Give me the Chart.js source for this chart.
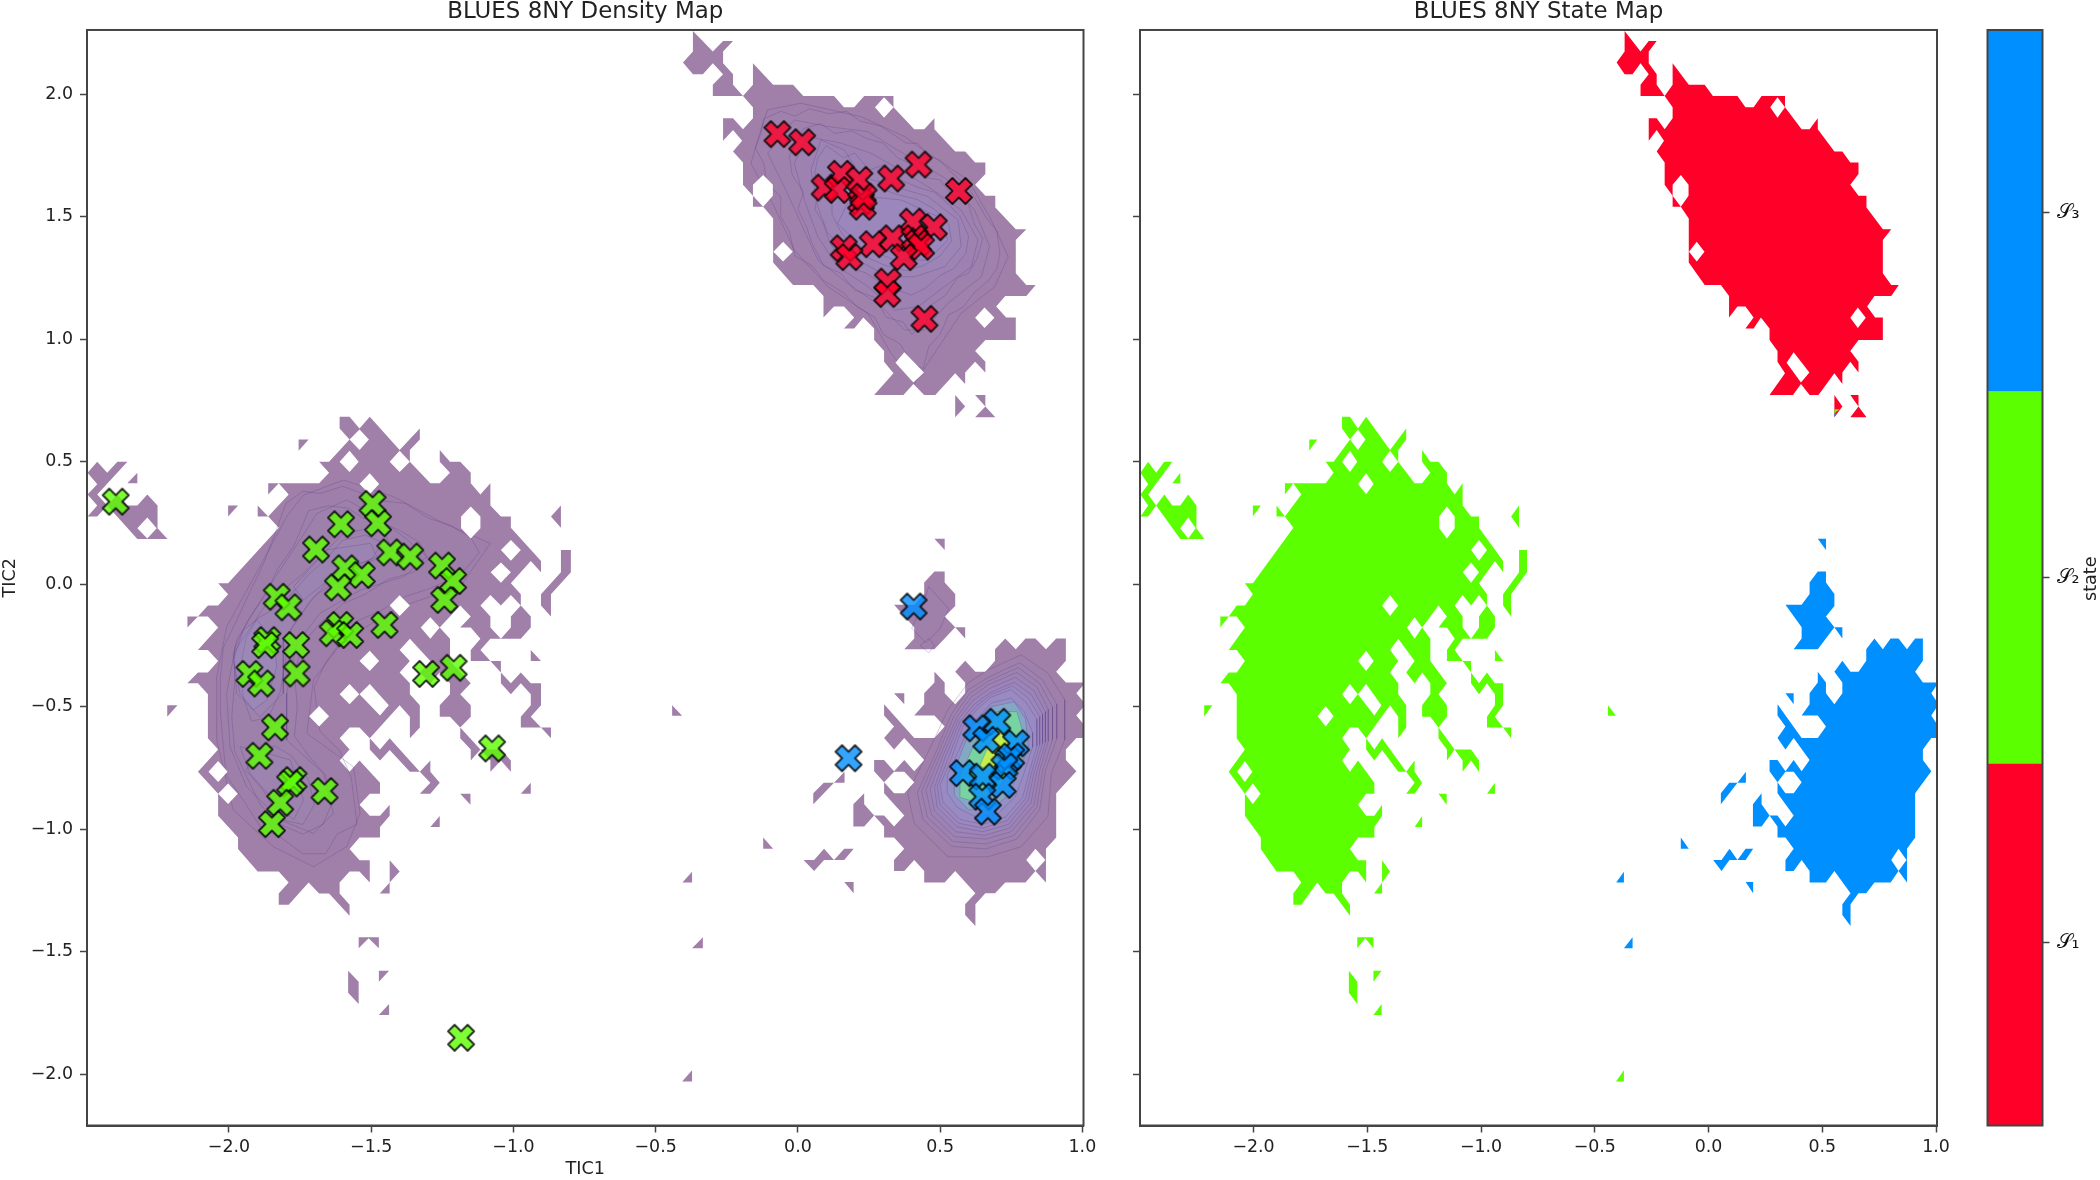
<!DOCTYPE html>
<html>
<head>
<meta charset="utf-8">
<title>BLUES 8NY</title>
<script src="https://cdn.jsdelivr.net/npm/chart.js@4"></script>
<style>
  html, body { margin: 0; background: #fff; }
  canvas { position: absolute; left: 0; top: 0; }
</style>
</head>
<body>
<canvas id="density" width="2100" height="1180"></canvas>
<canvas id="states" width="2100" height="1180"></canvas>
<canvas id="colorbar" width="2100" height="1180"></canvas>
<script>
// centres of the states (TIC1, TIC2)
const redCentres = [[-.072,1.837],[.015,1.804],[.094,1.619],[.151,1.675],[.140,1.609],[.216,1.650],[.222,1.562],[.228,1.541],[.231,1.582],[.328,1.656],[.424,1.713],[.566,1.605],[.404,1.480],[.478,1.457],[.333,1.412],[.263,1.388],[.410,1.412],[.422,1.392],[.433,1.378],[.372,1.335],[.161,1.371],[.181,1.335],[.316,1.235],[.314,1.185],[.445,1.083]];
const greenCentres = [[-2.398,.337],[-1.606,.245],[-1.495,.328],[-1.476,.249],[-1.694,.142],[-1.433,.130],[-1.363,.113],[-1.251,.076],[-1.212,.013],[-1.243,-.064],[-1.591,.065],[-1.533,.038],[-1.617,-.013],[-1.832,-.051],[-1.791,-.094],[-1.453,-.166],[-1.609,-.166],[-1.635,-.200],[-1.574,-.207],[-1.865,-.228],[-1.873,-.248],[-1.764,-.248],[-1.928,-.366],[-1.887,-.405],[-1.762,-.364],[-1.307,-.366],[-1.210,-.341],[-1.838,-.584],[-1.075,-.670],[-1.893,-.700],[-1.773,-.799],[-1.785,-.813],[-1.664,-.844],[-1.820,-.892],[-1.849,-.979],[-1.184,-1.851]];
const blueCentres = [[.407,-.091],[.178,-.710],[.627,-.588],[.701,-.561],[.662,-.635],[.767,-.649],[.738,-.717],[.750,-.703],[.726,-.744],[.580,-.771],[.650,-.785],[.720,-.819],[.648,-.867],[.668,-.928]];

// outlines of the occupied regions
const redMain = [[-.369,2.258],[-.299,2.174],[-.263,2.217],[-.228,2.217],[-.263,2.174],[-.263,2.126],[-.228,2.081],[-.228,2.038],[-.193,1.993],[-.158,2.038],[-.158,2.126],[-.087,2.038],[-.017,2.038],[.019,1.993],[.127,1.993],[.162,1.947],[.198,1.947],[.233,1.993],[.336,1.993],[.336,1.947],[.409,1.857],[.444,1.857],[.480,1.902],[.480,1.857],[.553,1.766],[.588,1.766],[.623,1.721],[.659,1.721],[.659,1.674],[.623,1.630],[.659,1.585],[.694,1.585],[.694,1.538],[.766,1.449],[.803,1.449],[.766,1.405],[.766,1.269],[.803,1.221],[.836,1.221],[.803,1.176],[.729,1.176],[.697,1.133],[.732,1.089],[.766,1.089],[.766,.997],[.659,.997],[.623,.952],[.659,.908],[.659,.864],[.623,.908],[.588,.864],[.588,.817],[.553,.861],[.483,.772],[.444,.772],[.406,.817],[.371,.772],[.268,.772],[.336,.861],[.303,.908],[.303,.952],[.268,.997],[.268,1.044],[.230,1.089],[.198,1.044],[.162,1.044],[.198,1.089],[.162,1.133],[.127,1.133],[.090,1.089],[.090,1.176],[.054,1.221],[-.017,1.221],[-.087,1.313],[-.087,1.493],[-.122,1.541],[-.158,1.541],[-.158,1.585],[-.193,1.630],[-.193,1.721],[-.228,1.766],[-.196,1.810],[-.228,1.854],[-.263,1.810],[-.263,1.902],[-.228,1.902],[-.193,1.857],[-.158,1.902],[-.158,1.947],[-.193,1.993],[-.299,1.993],[-.299,2.038],[-.263,2.081],[-.299,2.126],[-.334,2.081],[-.369,2.081],[-.404,2.129],[-.369,2.174]];
const redBits = [
  [[.553,.772],[.588,.725],[.553,.681]],
  [[.623,.772],[.659,.772],[.659,.725],[.694,.681],[.623,.681],[.659,.725]]
];
const redHoles = [
  [[.303,1.987],[.336,1.947],[.303,1.904],[.271,1.947]],
  [[-.122,1.670],[-.088,1.630],[-.088,1.585],[-.122,1.541],[-.158,1.585],[-.158,1.630]],
  [[-.052,1.398],[-.018,1.357],[-.052,1.317],[-.086,1.357]],
  [[.656,1.129],[.691,1.088],[.656,1.046],[.623,1.088]],
  [[.374,.947],[.443,.864],[.406,.823],[.343,.904]]
];

const greenMain = [[-1.611,.684],[-1.576,.684],[-1.541,.636],[-1.505,.684],[-1.400,.548],[-1.329,.636],[-1.329,.591],[-1.364,.548],[-1.364,.500],[-1.292,.412],[-1.259,.412],[-1.223,.455],[-1.259,.500],[-1.259,.548],[-1.223,.500],[-1.187,.500],[-1.150,.455],[-1.150,.412],[-1.116,.366],[-1.081,.412],[-1.081,.321],[-1.044,.276],[-1.009,.276],[-1.009,.231],[-.903,.095],[-.903,.049],[-.939,.095],[-1.009,.004],[-.974,-.041],[-.974,-.087],[-.939,-.132],[-.939,-.177],[-.974,-.222],[-1.081,-.222],[-1.116,-.268],[-1.081,-.313],[-1.150,-.313],[-1.150,-.268],[-1.116,-.222],[-1.150,-.177],[-1.187,-.177],[-1.150,-.132],[-1.187,-.087],[-1.259,-.177],[-1.223,-.222],[-1.223,-.313],[-1.150,-.404],[-1.187,-.449],[-1.150,-.494],[-1.150,-.541],[-1.187,-.585],[-1.223,-.541],[-1.259,-.541],[-1.259,-.494],[-1.223,-.449],[-1.223,-.404],[-1.259,-.360],[-1.292,-.404],[-1.329,-.360],[-1.292,-.313],[-1.364,-.222],[-1.400,-.268],[-1.364,-.313],[-1.400,-.360],[-1.364,-.404],[-1.364,-.449],[-1.329,-.494],[-1.329,-.585],[-1.364,-.629],[-1.364,-.541],[-1.400,-.494],[-1.505,-.629],[-1.541,-.585],[-1.576,-.585],[-1.611,-.629],[-1.576,-.674],[-1.611,-.719],[-1.576,-.765],[-1.541,-.719],[-1.469,-.810],[-1.469,-.855],[-1.505,-.855],[-1.541,-.900],[-1.505,-.945],[-1.469,-.945],[-1.435,-.900],[-1.435,-.945],[-1.469,-.991],[-1.469,-1.034],[-1.541,-1.034],[-1.576,-1.081],[-1.541,-1.126],[-1.505,-1.126],[-1.505,-1.217],[-1.541,-1.172],[-1.576,-1.172],[-1.611,-1.217],[-1.611,-1.262],[-1.576,-1.308],[-1.576,-1.353],[-1.648,-1.262],[-1.683,-1.262],[-1.720,-1.217],[-1.790,-1.308],[-1.825,-1.308],[-1.825,-1.262],[-1.790,-1.217],[-1.825,-1.172],[-1.899,-1.172],[-1.968,-1.081],[-1.968,-1.034],[-2.038,-.945],[-2.038,-.855],[-2.109,-.765],[-2.038,-.674],[-2.074,-.629],[-2.074,-.449],[-2.109,-.404],[-2.146,-.404],[-2.109,-.360],[-2.074,-.360],[-2.038,-.313],[-2.074,-.268],[-2.109,-.268],[-2.038,-.177],[-2.074,-.132],[-2.109,-.132],[-2.146,-.177],[-2.146,-.132],[-2.109,-.132],[-2.074,-.087],[-2.038,-.087],[-2.003,-.041],[-2.038,.004],[-2.003,.004],[-1.825,.231],[-1.862,.276],[-1.899,.276],[-1.899,.321],[-1.862,.276],[-1.790,.366],[-1.825,.412],[-1.862,.366],[-1.862,.412],[-1.683,.412],[-1.648,.455],[-1.683,.500],[-1.648,.500],[-1.576,.591],[-1.611,.636]];
const greenBits = [
  [[-2.497,.455],[-2.463,.500],[-2.428,.455],[-2.392,.500],[-2.357,.500],[-2.463,.366],[-2.428,.321],[-2.392,.366],[-2.357,.321],[-2.322,.321],[-2.287,.366],[-2.251,.321],[-2.251,.228],[-2.216,.185],[-2.322,.185],[-2.428,.321],[-2.463,.276],[-2.497,.276],[-2.463,.321],[-2.497,.366],[-2.463,.408]],
  [[-2.322,.455],[-2.322,.412],[-2.357,.412]],
  [[-1.505,-.629],[-1.469,-.674],[-1.435,-.629],[-1.329,-.765],[-1.292,-.719],[-1.292,-.765],[-1.259,-.810],[-1.292,-.855],[-1.329,-.855],[-1.292,-.810],[-1.329,-.765],[-1.364,-.765],[-1.435,-.677],[-1.469,-.719],[-1.505,-.674]],
  [[-1.187,-.585],[-1.116,-.674],[-1.044,-.674],[-1.009,-.719],[-1.009,-.765],[-1.044,-.719],[-1.081,-.765],[-1.081,-.719],[-1.116,-.674],[-1.150,-.719],[-1.150,-.674],[-1.187,-.629]],
  [[-1.044,-.313],[-1.044,-.360],[-1.009,-.404],[-.974,-.360],[-.939,-.404],[-.903,-.404],[-.903,-.494],[-.939,-.541],[-.903,-.585],[-.868,-.585],[-.868,-.629],[-.903,-.585],[-.974,-.585],[-.974,-.541],[-.939,-.494],[-.939,-.449],[-.974,-.404],[-1.009,-.449],[-1.044,-.404],[-1.044,-.360],[-1.081,-.313]],
  [[-.833,.140],[-.798,.140],[-.798,.049],[-.868,-.041],[-.868,-.132],[-.903,-.087],[-.903,-.041],[-.833,.049]],
  [[-.833,.321],[-.833,.231],[-.868,.276]],
  [[-.939,-.268],[-.903,-.313],[-.939,-.313]],
  [[-1.755,.591],[-1.720,.591],[-1.755,.545]],
  [[-2.003,.321],[-1.968,.321],[-2.003,.276]],
  [[-2.217,-.494],[-2.181,-.494],[-2.217,-.541]],
  [[-1.435,-1.126],[-1.400,-1.172],[-1.435,-1.217],[-1.435,-1.262],[-1.470,-1.262],[-1.435,-1.217]],
  [[-.939,-.810],[-.939,-.855],[-.974,-.855]],
  [[-1.187,-.855],[-1.151,-.855],[-1.151,-.900]],
  [[-1.259,-.946],[-1.259,-.991],[-1.292,-.991]],
  [[-.442,-.494],[-.407,-.537],[-.442,-.537]],
  [[-1.544,-1.441],[-1.473,-1.441],[-1.473,-1.486],[-1.509,-1.445],[-1.544,-1.486]],
  [[-1.581,-1.577],[-1.544,-1.622],[-1.544,-1.713],[-1.581,-1.667]],
  [[-1.473,-1.577],[-1.437,-1.577],[-1.473,-1.622]],
  [[-1.437,-1.713],[-1.437,-1.758],[-1.473,-1.758]],
  [[-.372,-1.984],[-.372,-2.029],[-.407,-2.029]]
];
const greenHoles = [
  [[-1.541,.632],[-1.508,.591],[-1.541,.548],[-1.576,.591]],
  [[-1.576,.545],[-1.544,.500],[-1.576,.458],[-1.611,.500]],
  [[-1.505,.453],[-1.472,.409],[-1.505,.367],[-1.541,.409]],
  [[-1.400,.545],[-1.364,.500],[-1.400,.458],[-1.435,.500]],
  [[-1.150,.317],[-1.116,.276],[-1.116,.228],[-1.150,.187],[-1.184,.228],[-1.184,.276]],
  [[-1.009,.181],[-.974,.140],[-1.009,.096],[-1.044,.140]],
  [[-1.044,.089],[-1.009,.049],[-1.044,.006],[-1.080,.049]],
  [[-1.400,-.045],[-1.364,-.087],[-1.400,-.130],[-1.435,-.087]],
  [[-1.292,-.135],[-1.259,-.177],[-1.292,-.222],[-1.326,-.177]],
  [[-1.505,-.271],[-1.472,-.313],[-1.505,-.354],[-1.541,-.313]],
  [[-1.576,-.407],[-1.542,-.449],[-1.576,-.490],[-1.611,-.449]],
  [[-1.505,-.407],[-1.438,-.494],[-1.469,-.536],[-1.541,-.449]],
  [[-1.683,-.497],[-1.648,-.539],[-1.683,-.581],[-1.718,-.539]],
  [[-2.038,-.721],[-2.005,-.765],[-2.038,-.807],[-2.072,-.765]],
  [[-2.003,-.813],[-1.969,-.855],[-2.003,-.897],[-2.038,-.855]],
  [[-2.287,.272],[-2.254,.228],[-2.287,.187],[-2.322,.228]],
  [[-1.081,-.044],[-1.044,-.087],[-1.009,-.044],[-.974,-.087],[-1.009,-.132],[-1.009,-.177],[-1.044,-.222],[-1.081,-.177],[-1.081,-.132],[-1.116,-.087]]
];

const blueMain = [[.729,-.221],[.766,-.265],[.800,-.221],[.835,-.221],[.872,-.265],[.908,-.221],[.942,-.221],[.942,-.312],[.908,-.357],[.942,-.401],[1.011,-.401],[.979,-.445],[1.011,-.490],[.979,-.536],[1.011,-.581],[1.011,-.628],[.979,-.628],[.942,-.674],[.942,-.717],[.979,-.763],[.908,-.853],[.908,-1.034],[.872,-1.080],[.872,-1.217],[.835,-1.170],[.800,-1.217],[.729,-1.217],[.693,-1.261],[.659,-1.261],[.624,-1.306],[.624,-1.395],[.588,-1.350],[.588,-1.306],[.624,-1.261],[.553,-1.170],[.516,-1.217],[.444,-1.217],[.444,-1.170],[.409,-1.125],[.374,-1.170],[.338,-1.170],[.338,-1.125],[.374,-1.080],[.338,-1.034],[.303,-1.034],[.303,-.989],[.268,-.944],[.303,-.944],[.338,-.989],[.374,-.944],[.303,-.853],[.303,-.808],[.268,-.763],[.268,-.717],[.303,-.717],[.338,-.763],[.374,-.717],[.409,-.763],[.444,-.717],[.374,-.628],[.338,-.674],[.303,-.628],[.338,-.581],[.303,-.536],[.303,-.490],[.409,-.628],[.480,-.628],[.516,-.581],[.480,-.536],[.409,-.536],[.444,-.490],[.444,-.445],[.480,-.401],[.480,-.357],[.516,-.401],[.516,-.445],[.553,-.490],[.588,-.445],[.588,-.401],[.553,-.357],[.588,-.312],[.624,-.357],[.659,-.357],[.693,-.312],[.693,-.265]];
const blueBits = [
  [[.480,.052],[.516,.052],[.516,.007],[.553,-.040],[.553,-.089],[.516,-.132],[.553,-.176],[.588,-.176],[.588,-.221],[.553,-.176],[.480,-.265],[.374,-.265],[.409,-.221],[.409,-.176],[.338,-.084],[.409,-.084],[.444,-.040],[.444,.007]],
  [[.480,.186],[.516,.186],[.516,.140]],
  [[.338,-.445],[.374,-.445],[.374,-.490]],
  [[.164,-.765],[.164,-.810],[.127,-.810],[.054,-.898],[.054,-.853],[.091,-.810],[.127,-.810]],
  [[.233,-.853],[.233,-.898],[.268,-.944],[.233,-.989],[.195,-.989],[.195,-.898]],
  [[-.122,-1.034],[-.087,-1.080],[-.122,-1.080]],
  [[.092,-1.080],[.127,-1.125],[.163,-1.080],[.196,-1.080],[.163,-1.125],[.092,-1.125],[.057,-1.170],[.020,-1.125],[.057,-1.125]],
  [[.163,-1.215],[.196,-1.215],[.196,-1.261]],
  [[-.372,-1.173],[-.372,-1.217],[-.406,-1.217]],
  [[-.334,-1.441],[-.334,-1.486],[-.372,-1.486]]
];
const blueHoles = [
  [[.338,-.765],[.374,-.765],[.409,-.808],[.374,-.853],[.338,-.853],[.303,-.808]],
  [[.835,-1.080],[.870,-1.125],[.835,-1.170],[.803,-1.125]]
];

// the little spot where all three states meet
const meetGreen = [[.553,.714],[.577,.714],[.553,.698]];
const meetBlue = [[.553,.698],[.565,.698],[.553,.681]];

// density contours, outermost first
const redRings = [
  [[-.107,1.936],[.011,1.963],[.222,1.908],[.375,1.827],[.457,1.759],[.598,1.650],[.680,1.487],[.739,1.337],[.692,1.215],[.574,1.106],[.480,.942],[.410,.820],[.328,.942],[.246,1.106],[.105,1.215],[-.013,1.364],[-.083,1.541],[-.165,1.718],[-.130,1.854]],
  [[-.12,1.90],[-.06,1.93],[-.01,1.91],[.04,1.94],[.11,1.92],[.17,1.93],[.22,1.89],[.29,1.87],[.33,1.84],[.38,1.80],[.42,1.80],[.46,1.75],[.50,1.73],[.54,1.68],[.58,1.64],[.61,1.60],[.64,1.54],[.66,1.50],[.70,1.44],[.71,1.35],[.70,1.29],[.67,1.24],[.62,1.19],[.58,1.13],[.53,1.10],[.50,1.02],[.46,.97],[.44,.88],[.40,.90],[.36,.98],[.30,1.02],[.27,1.09],[.21,1.13],[.16,1.19],[.09,1.24],[.05,1.30],[-.01,1.34],[-.03,1.44],[-.06,1.50],[-.06,1.58],[-.11,1.64],[-.12,1.72],[-.15,1.78],[-.13,1.84]],
  [[-.013,1.895],[.105,1.868],[.246,1.847],[.340,1.779],[.410,1.732],[.527,1.650],[.621,1.527],[.674,1.378],[.645,1.255],[.527,1.146],[.445,1.037],[.375,1.038],[.293,1.133],[.175,1.228],[.070,1.323],[.011,1.473],[-.048,1.623],[-.106,1.759]],
  [[.02,1.86],[.08,1.88],[.13,1.84],[.19,1.85],[.24,1.82],[.30,1.80],[.35,1.74],[.41,1.71],[.45,1.66],[.50,1.65],[.54,1.59],[.60,1.55],[.62,1.47],[.65,1.41],[.63,1.33],[.60,1.27],[.56,1.25],[.52,1.18],[.47,1.14],[.45,1.06],[.40,1.02],[.37,1.07],[.31,1.09],[.27,1.17],[.20,1.20],[.15,1.27],[.09,1.30],[.05,1.39],[.03,1.46],[.00,1.53],[.02,1.60],[-.02,1.67],[-.03,1.75],[.00,1.81]],
  [[.034,1.827],[.152,1.800],[.257,1.759],[.340,1.704],[.457,1.623],[.574,1.527],[.633,1.405],[.610,1.296],[.516,1.215],[.422,1.133],[.340,1.119],[.246,1.215],[.140,1.296],[.070,1.419],[.023,1.568],[-.013,1.718]],
  [[.10,1.79],[.16,1.74],[.20,1.76],[.25,1.69],[.30,1.71],[.36,1.65],[.42,1.62],[.48,1.60],[.53,1.55],[.57,1.50],[.60,1.42],[.59,1.35],[.55,1.29],[.50,1.26],[.45,1.21],[.40,1.18],[.35,1.20],[.29,1.23],[.24,1.27],[.19,1.29],[.14,1.34],[.11,1.40],[.09,1.47],[.06,1.53],[.07,1.60],[.06,1.68],[.07,1.74]],
  [[.081,1.813],[.164,1.772],[.222,1.664],[.340,1.623],[.457,1.582],[.563,1.487],[.574,1.378],[.516,1.296],[.410,1.255],[.316,1.255],[.211,1.323],[.105,1.432],[.070,1.541],[.046,1.691]],
  [[.16,1.70],[.21,1.63],[.28,1.62],[.35,1.59],[.42,1.57],[.48,1.53],[.53,1.47],[.54,1.40],[.50,1.34],[.44,1.30],[.38,1.28],[.31,1.30],[.25,1.33],[.19,1.38],[.15,1.44],[.12,1.51],[.12,1.58],[.13,1.65]],
  [[.246,1.582],[.363,1.568],[.492,1.500],[.527,1.405],[.457,1.323],[.340,1.323],[.222,1.378],[.140,1.473],[.175,1.555]]
];
const greenRings = [
  [[-1.738,.364],[-1.597,.425],[-1.421,.357],[-1.245,.249],[-1.081,.167],[-1.187,-.010],[-1.398,-.092],[-1.597,-.228],[-1.703,-.391],[-1.726,-.609],[-1.562,-.745],[-1.539,-.935],[-1.586,-1.071],[-1.703,-1.153],[-1.844,-1.071],[-1.985,-.921],[-2.043,-.636],[-2.043,-.377],[-2.008,-.173],[-1.891,.072],[-1.797,.276]],
  [[-1.80,.33],[-1.74,.38],[-1.68,.37],[-1.60,.40],[-1.53,.37],[-1.46,.34],[-1.38,.33],[-1.30,.27],[-1.22,.24],[-1.15,.19],[-1.12,.13],[-1.17,.06],[-1.22,.02],[-1.30,-.02],[-1.38,-.05],[-1.47,-.11],[-1.55,-.15],[-1.61,-.24],[-1.66,-.32],[-1.70,-.42],[-1.69,-.52],[-1.68,-.60],[-1.61,-.68],[-1.57,-.79],[-1.56,-.88],[-1.55,-.98],[-1.62,-1.02],[-1.66,-1.10],[-1.74,-1.10],[-1.81,-1.04],[-1.89,-.99],[-1.95,-.88],[-2.01,-.78],[-2.02,-.66],[-2.03,-.52],[-2.03,-.38],[-2.02,-.26],[-1.97,-.14],[-1.93,-.04],[-1.88,.08],[-1.84,.20]],
  [[-1.691,.289],[-1.586,.344],[-1.480,.276],[-1.386,.194],[-1.304,.113],[-1.386,.031],[-1.539,-.024],[-1.680,-.119],[-1.762,-.241],[-1.797,-.445],[-1.797,-.636],[-1.668,-.772],[-1.633,-.935],[-1.703,-1.017],[-1.820,-.962],[-1.938,-.826],[-1.996,-.663],[-2.008,-.445],[-1.973,-.228],[-1.844,.017],[-1.750,.181]],
  [[-1.72,.30],[-1.65,.32],[-1.58,.31],[-1.53,.27],[-1.46,.25],[-1.40,.22],[-1.33,.17],[-1.30,.10],[-1.35,.05],[-1.44,.02],[-1.52,-.04],[-1.60,-.08],[-1.68,-.16],[-1.74,-.24],[-1.77,-.36],[-1.76,-.50],[-1.77,-.62],[-1.72,-.70],[-1.66,-.78],[-1.64,-.90],[-1.67,-.98],[-1.74,-1.02],[-1.82,-.98],[-1.89,-.90],[-1.94,-.78],[-1.98,-.68],[-1.99,-.54],[-1.98,-.40],[-1.98,-.26],[-1.93,-.14],[-1.87,-.04],[-1.83,.06],[-1.77,.16]],
  [[-1.867,-.078],[-1.738,.045],[-1.597,.208],[-1.468,.235],[-1.421,.140],[-1.562,.058],[-1.703,-.051],[-1.809,-.228],[-1.809,-.445],[-1.891,-.541],[-1.973,-.445],[-1.985,-.282]],
  [[-1.84,-.10],[-1.78,-.04],[-1.72,.04],[-1.66,.10],[-1.60,.18],[-1.52,.20],[-1.46,.17],[-1.50,.10],[-1.58,.07],[-1.66,.00],[-1.72,-.08],[-1.78,-.18],[-1.80,-.30],[-1.82,-.44],[-1.86,-.54],[-1.92,-.56],[-1.95,-.46],[-1.96,-.34],[-1.94,-.22],[-1.90,-.14]],
  [[-1.773,-.010],[-1.656,.140],[-1.503,.167],[-1.480,.113],[-1.621,.045],[-1.738,-.064]],
  [[-1.90,-.68],[-1.84,-.66],[-1.78,-.70],[-1.72,-.80],[-1.70,-.90],[-1.74,-.98],[-1.82,-.96],[-1.88,-.84],[-1.94,-.76]],
  [[-1.961,-.663],[-1.867,-.690],[-1.785,-.717],[-1.738,-.881],[-1.773,-.962],[-1.844,-.881],[-1.926,-.772]],
  [[-1.949,-.187],[-1.902,-.146],[-1.844,-.228],[-1.832,-.336],[-1.867,-.472],[-1.914,-.513],[-1.961,-.445],[-1.985,-.309]]
];
const blueRings = [
  [[.668,-.350],[.785,-.288],[.879,-.363],[.938,-.472],[.938,-.635],[.891,-.771],[.879,-.948],[.785,-1.071],[.668,-1.112],[.527,-1.112],[.409,-.976],[.386,-.853],[.456,-.690],[.527,-.513],[.597,-.404]],
  [[.67,-.38],[.78,-.32],[.86,-.39],[.91,-.49],[.91,-.63],[.87,-.76],[.85,-.92],[.77,-1.04],[.66,-1.08],[.54,-1.07],[.44,-.96],[.42,-.85],[.48,-.70],[.54,-.53],[.60,-.43]],
  [[.67,-.395],[.775,-.34],[.85,-.405],[.895,-.50],[.895,-.635],[.86,-.76],[.84,-.91],[.76,-1.025],[.66,-1.06],[.545,-1.05],[.455,-.95],[.435,-.845],[.49,-.70],[.55,-.535],[.605,-.445]],
  [[.67,-.41],[.77,-.36],[.84,-.42],[.88,-.51],[.88,-.64],[.85,-.76],[.83,-.90],[.75,-1.01],[.66,-1.04],[.55,-1.03],[.47,-.94],[.45,-.84],[.50,-.70],[.56,-.54],[.61,-.46]],
  [[.675,-.425],[.765,-.38],[.83,-.435],[.87,-.52],[.87,-.645],[.84,-.765],[.82,-.89],[.745,-.995],[.655,-1.025],[.555,-1.01],[.48,-.925],[.465,-.835],[.51,-.70],[.565,-.55],[.615,-.475]],
  [[.68,-.44],[.76,-.40],[.82,-.45],[.86,-.53],[.86,-.65],[.83,-.77],[.81,-.88],[.74,-.98],[.65,-1.01],[.56,-.99],[.49,-.91],[.48,-.83],[.52,-.70],[.57,-.56],[.62,-.49]],
  [[.68,-.45],[.755,-.415],[.81,-.465],[.85,-.54],[.85,-.655],[.82,-.775],[.80,-.875],[.735,-.965],[.65,-.995],[.565,-.975],[.50,-.90],[.49,-.825],[.53,-.705],[.575,-.57],[.625,-.50]],
  [[.68,-.46],[.75,-.43],[.80,-.48],[.84,-.55],[.84,-.66],[.81,-.78],[.79,-.87],[.73,-.95],[.65,-.98],[.57,-.96],[.51,-.89],[.50,-.82],[.54,-.71],[.58,-.58],[.63,-.51]],
  [[.68,-.485],[.75,-.465],[.795,-.52],[.825,-.605],[.825,-.665],[.795,-.77],[.765,-.865],[.705,-.935],[.625,-.95],[.56,-.91],[.525,-.85],[.525,-.78],[.565,-.68],[.60,-.585],[.645,-.53]],
  [[.68,-.50],[.76,-.48],[.80,-.55],[.81,-.66],[.78,-.76],[.74,-.86],[.68,-.92],[.60,-.92],[.55,-.86],[.55,-.76],[.59,-.64],[.63,-.55]],
  [[.70,-.52],[.77,-.52],[.79,-.60],[.78,-.68],[.75,-.76],[.70,-.84],[.63,-.89],[.57,-.87],[.57,-.78],[.61,-.68],[.65,-.59]],
  [[.71,-.60],[.74,-.64],[.71,-.72],[.67,-.76],[.64,-.74],[.67,-.66]]
];
const smallBlueRings = [
  [[.46,-.01],[.53,-.10],[.50,-.18],[.45,-.24],[.40,-.18],[.44,-.08]],
  [[.46,-.22],[.48,-.25],[.46,-.28],[.43,-.25]]
];

const tic1Range = [-2.499, 1.004];
const tic2Range = [-2.209, 2.262];
const stateEdges = [-.5, .49, 1.51, 2.5];
const stateTicks = [0, 1, 2];
const stateNames = ["𝒮₁", "𝒮₂", "𝒮₃"];

const RED = "#ff0029", GREEN = "#5cff00", BLUE = "#008fff";
const PURPLE = "#a07fa9";
const FONT = "'DejaVu Sans'";
const INK = "#222";
const SPINE = "#444";

Chart.defaults.font.family = FONT;
Chart.defaults.color = INK;
Chart.defaults.animation = false;

function area(points, color, order) {
  return {
    data: points.map(([x, y]) => ({ x, y })),
    showLine: true, fill: "shape", tension: 0, pointRadius: 0,
    borderWidth: 0, backgroundColor: color, borderColor: color, order,
  };
}

function ring(points, fillColor, order) {
  const closed = points.concat([points[0]]);
  return {
    data: closed.map(([x, y]) => ({ x, y })),
    showLine: true, fill: "shape", tension: 0, pointRadius: 0,
    borderWidth: 0.8, borderColor: "rgba(72,40,125,.28)", backgroundColor: fillColor, order,
  };
}

// matplotlib style filled X
function xMarker(color) {
  const c = document.createElement("canvas");
  c.width = c.height = 36;
  const g = c.getContext("2d");
  const u = 6.5;
  const path = [[-1,-2],[0,-1],[1,-2],[2,-1],[1,0],[2,1],[1,2],[0,1],[-1,2],[-2,1],[-1,0],[-2,-1]];
  g.translate(18, 18);
  g.globalAlpha = 0.8;
  g.beginPath();
  path.forEach(([a, b], i) => i ? g.lineTo(a * u, b * u) : g.moveTo(a * u, b * u));
  g.closePath();
  g.fillStyle = color;
  g.fill();
  g.lineWidth = 2;
  g.lineJoin = "round";
  g.strokeStyle = "#000";
  g.stroke();
  return c;
}

function markers(points, color) {
  return {
    data: points.map(([x, y]) => ({ x, y })),
    showLine: false, pointStyle: xMarker(color), pointRadius: 14, order: 0,
  };
}

const spines = {
  id: "spines",
  afterDraw(chart) {
    const { ctx, chartArea: a } = chart;
    ctx.save();
    ctx.strokeStyle = SPINE;
    ctx.lineWidth = 2;
    ctx.strokeRect(a.left, a.top, a.right - a.left, a.bottom - a.top);
    ctx.restore();
  },
};

const tickText = (v) => v.toFixed(1).replace("-", "−");

function panelOptions(title, padLeft, padRight, yWidth, showYLabels, xTitle, yTitle) {
  return {
    responsive: false,
    layout: { padding: { left: padLeft, right: padRight, top: 0, bottom: 0 } },
    plugins: {
      legend: { display: false },
      tooltip: { enabled: false },
      title: {
        display: true, text: title, color: INK, fullSize: false,
        font: { size: 22.9, weight: "normal" }, padding: { top: -1.5, bottom: 4 },
      },
    },
    scales: {
      x: {
        type: "linear", min: tic1Range[0], max: tic1Range[1],
        afterFit: (s) => { s.height = 54.5; },
        grid: { drawOnChartArea: false, tickLength: 7, tickColor: SPINE, tickWidth: 1.5 },
        border: { color: SPINE, width: 2 },
        ticks: { stepSize: 0.5, includeBounds: false, maxRotation: 0, autoSkip: false, padding: 5, font: { size: 17.4 }, callback: tickText },
        title: { display: !!xTitle, text: xTitle, font: { size: 17.6 }, padding: 0 },
      },
      y: {
        type: "linear", min: tic2Range[0], max: tic2Range[1],
        afterFit: (s) => { s.width = yWidth; },
        grid: { drawOnChartArea: false, tickLength: 7, tickColor: SPINE, tickWidth: 1.5 },
        border: { color: SPINE, width: 2 },
        ticks: { stepSize: 0.5, includeBounds: false, autoSkip: false, padding: 7, font: { size: 17.4 }, callback: (v) => showYLabels ? tickText(v) : "" },
        title: { display: !!yTitle, text: yTitle, font: { size: 17.6 }, padding: 0 },
      },
    },
  };
}

// density map
const allAreas = [redMain, ...redBits, greenMain, ...greenBits, blueMain, ...blueBits];
const allHoles = [...redHoles, ...greenHoles, ...blueHoles];
const redShades = [".03", ".03", ".04", ".04", ".05", ".05", ".06", ".07", ".08"].map((a) => `rgba(150,160,225,${a})`);
const greenShades = [".02", ".02", ".03", ".03", ".05", ".05", ".07", ".05", ".05", ".16"].map((a) => `rgba(150,160,225,${a})`);
const blueShades = ["rgba(150,150,220,.05)", "rgba(150,150,220,.06)", "rgba(150,150,220,.07)", "rgba(150,150,220,.08)", "rgba(150,150,225,.08)", "rgba(150,150,225,.09)", "rgba(145,160,225,.10)", "rgba(145,160,225,.12)", "rgba(130,170,215,.22)", "rgba(115,190,195,.50)", "rgba(115,225,150,.75)", "rgba(200,240,75,.95)"];

new Chart(document.getElementById("density"), {
  type: "scatter",
  data: {
    datasets: [
      markers(redCentres, RED),
      markers(greenCentres, GREEN),
      markers(blueCentres, BLUE),
      ...allHoles.map((h) => area(h, "#fff", 5)),
      ...smallBlueRings.map((r, i) => ring(r, "rgba(150,160,225,.04)", 40 - i)),
      ...redRings.map((r, i) => ring(r, redShades[i], 40 - i)),
      ...greenRings.map((r, i) => ring(r, greenShades[i], 40 - i)),
      ...blueRings.map((r, i) => ring(r, blueShades[i], 40 - i)),
      ...allAreas.map((p) => area(p, PURPLE, 50)),
    ],
  },
  options: panelOptions("BLUES 8NY Density Map", 0, 1016.5, 87, true, "TIC1", "TIC2"),
  plugins: [spines],
});

// state map
new Chart(document.getElementById("states"), {
  type: "scatter",
  data: {
    datasets: [
      area(meetGreen, GREEN, 1),
      area(meetBlue, BLUE, 1),
      ...allHoles.map((h) => area(h, "#fff", 5)),
      ...[redMain, ...redBits].map((p) => area(p, RED, 50)),
      ...[greenMain, ...greenBits].map((p) => area(p, GREEN, 50)),
      ...[blueMain, ...blueBits].map((p) => area(p, BLUE, 50)),
    ],
  },
  options: panelOptions("BLUES 8NY State Map", 1130, 163, 10, false, "", ""),
  plugins: [spines],
});

// colour bar
const stateLabel = {
  id: "stateLabel",
  afterDraw(chart) {
    const { ctx, chartArea: a } = chart;
    ctx.save();
    ctx.translate(2091, (a.top + a.bottom) / 2 + 1);
    ctx.rotate(-Math.PI / 2);
    ctx.font = "17.6px " + FONT;
    ctx.fillStyle = INK;
    ctx.textAlign = "center";
    ctx.textBaseline = "middle";
    ctx.fillText("state", 0, 0);
    ctx.restore();
  },
};

new Chart(document.getElementById("colorbar"), {
  type: "bar",
  data: {
    labels: [""],
    datasets: [
      { data: [[stateEdges[0], stateEdges[1]]], backgroundColor: RED },
      { data: [[stateEdges[1], stateEdges[2]]], backgroundColor: GREEN },
      { data: [[stateEdges[2], stateEdges[3]]], backgroundColor: BLUE },
    ],
  },
  options: {
    responsive: false,
    layout: { padding: { left: 1987.5, right: 0, top: 30, bottom: 0 } },
    plugins: { legend: { display: false }, tooltip: { enabled: false } },
    datasets: { bar: { barPercentage: 1, categoryPercentage: 1, grouped: false } },
    scales: {
      x: { display: true, afterFit: (s) => { s.height = 54.5; }, grid: { display: false }, border: { display: false }, ticks: { display: false } },
      y: {
        position: "right", min: stateEdges[0], max: stateEdges[3],
        afterBuildTicks: (s) => { s.ticks = stateTicks.map((value) => ({ value })); },
        afterFit: (s) => { s.width = 57.5; },
        grid: { drawOnChartArea: false, tickLength: 7, tickColor: SPINE, tickWidth: 1.5 },
        border: { display: false },
        ticks: { autoSkip: false, padding: 7, color: "#111", font: { size: 20 }, callback: (v) => stateNames[v] },
      },
    },
  },
  plugins: [spines, stateLabel],
});
</script>
</body>
</html>
